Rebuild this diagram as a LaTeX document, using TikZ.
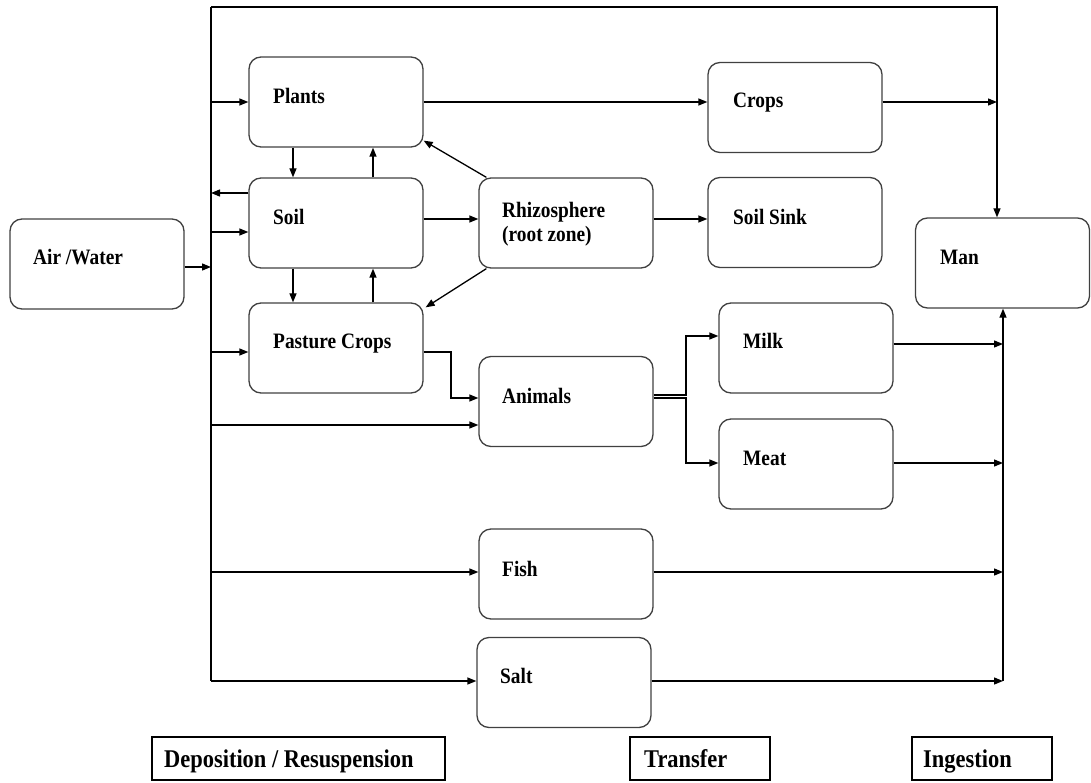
\documentclass[tikz,border=0pt]{standalone}
\usepackage{fontspec}
\setmainfont{Liberation Serif}[FakeStretch=0.88]
\usetikzlibrary{arrows.meta,calc}
\tikzset{
  box/.style={draw=black!75, line width=1.3pt, rounded corners=12pt, minimum width=174pt, minimum height=90pt, inner sep=0pt},
  txt/.style={anchor=base west, inner sep=0pt, font=\fontsize{22}{26}\selectfont\bfseries},
  lbl/.style={draw=black, line width=1.4pt, anchor=north west, inner sep=0pt},
  ltxt/.style={anchor=base west, inner sep=0pt, font=\fontsize{25.5}{30}\selectfont\bfseries},
  ln/.style={line width=1.3pt, draw=black},
  arr/.style={ln, -{Triangle[length=9pt,width=7pt]}}
}
\begin{document}
\begin{tikzpicture}[x=1pt,y=-1pt]
\useasboundingbox (0,0) rectangle (1091,783);
% boxes
\node[box] (air) at (97,264) {};
\node[box] (plants) at (336,102) {};
\node[box] (soil) at (336,223) {};
\node[box] (pasture) at (336,348) {};
\node[box] (rhizo) at (566,223) {};
\node[box] (animals) at (566,401.5) {};
\node[box] (fish) at (566,574) {};
\node[box] (salt) at (564,682.5) {};
\node[box] (crops) at (795,107.5) {};
\node[box] (soilsink) at (795,222.5) {};
\node[box] (milk) at (806,348) {};
\node[box] (meat) at (806,464) {};
\node[box] (man) at (1002.5,263) {};
% texts
\node[txt] (airT) at (33,265) {Air /Water};
\node[txt] (plantsT) at (273,104) {Plants};
\node[txt] (soilT) at (273,225) {Soil};
\node[txt] (pastureT) at (273,348) {Pasture Crops};
\node[txt] (rhizoT1) at (502,218) {Rhizosphere};
\node[txt] (rhizoT2) at (502,242) {(root zone)};
\node[txt] (animalsT) at (502,403) {Animals};
\node[txt] (fishT) at (502,576) {Fish};
\node[txt] (saltT) at (500,683) {Salt};
\node[txt] (cropsT) at (733,108) {Crops};
\node[txt] (soilsinkT) at (733,225) {Soil Sink};
\node[txt] (milkT) at (743,348) {Milk};
\node[txt] (meatT) at (743,465) {Meat};
\node[txt] (manT) at (940,265) {Man};
% bottom labels
\draw[line width=1.4pt] (152,737) rectangle (445,780);
\draw[line width=1.4pt] (630,737) rectangle (770,780);
\draw[line width=1.4pt] (912,737) rectangle (1052,780);
\node[ltxt] (depT) at (164,767) {Deposition / Resuspension};
\node[ltxt] (trT) at (644,767) {Transfer};
\node[ltxt] (ingT) at (923,767) {Ingestion};
% bus coordinates
\coordinate (tl) at (211,7);
\coordinate (tr) at (997,7);
\coordinate (bl) at (211,681);
\coordinate (rb) at (1003,681);
\coordinate (b1) at (211,267);
\coordinate (s1) at (211,193);
\coordinate (s2) at (211,232);
\coordinate (p1) at (211,352);
\coordinate (a1) at (211,425);
\coordinate (f1) at (211,572);
\coordinate (cx1) at (293,0);
\coordinate (cx2) at (373,0);
\coordinate (r1) at (0,219);
\coordinate (k1) at (451,352);
\coordinate (k2) at (451,398);
\coordinate (m0) at (686,395);
\coordinate (m1) at (686,336);
\coordinate (n0) at (686,398);
\coordinate (n1) at (686,463);
\coordinate (y1) at (0,344);
\coordinate (y2) at (0,463);
% left bus and top line
\draw[ln] (bl) -- (tl);
\draw[arr] (tl) -- (tr) -- (man.north -| tr);
\draw[arr] (air.east |- b1) -- (b1);
\draw[arr] (tl |- plants.west) -- (plants.west);
\draw[arr] (soil.west |- s1) -- (s1);
\draw[arr] (s2) -- (soil.west |- s2);
\draw[arr] (p1) -- (pasture.west |- p1);
\draw[arr] (a1) -- (animals.west |- a1);
\draw[arr] (f1) -- (fish.west |- f1);
\draw[arr] (bl) -- (salt.west |- bl);
% vertical exchanges
\draw[arr] (plants.south -| cx1) -- (soil.north -| cx1);
\draw[arr] (soil.north -| cx2) -- (plants.south -| cx2);
\draw[arr] (soil.south -| cx1) -- (pasture.north -| cx1);
\draw[arr] (pasture.north -| cx2) -- (soil.south -| cx2);
% rhizosphere
\draw[arr] (soil.east |- r1) -- (rhizo.west |- r1);
\draw[arr] (rhizo.east |- r1) -- (soilsink.west |- r1);
\draw[arr] ([xshift=8pt]rhizo.north west) -- ([yshift=7pt]plants.south east);
\draw[arr] ([xshift=8pt]rhizo.south west) -- ([xshift=2pt,yshift=-5pt]pasture.north east);
% crops
\draw[arr] (plants.east) -- (crops.west |- plants.east);
\draw[arr] (crops.east |- plants.east) -- (tr |- plants.east);
% animals
\draw[arr] (pasture.east |- k1) -- (k1) -- (k2) -- (animals.west |- k2);
\draw[arr] (animals.east |- m0) -- (m0) -- (m1) -- (milk.west |- m1);
\draw[arr] (animals.east |- n0) -- (n0) -- (n1) -- (meat.west |- n1);
% right bus
\draw[arr] (rb) -- (man.south -| rb);
\draw[arr] (milk.east |- y1) -- (rb |- y1);
\draw[arr] (meat.east |- y2) -- (rb |- y2);
\draw[arr] (fish.east |- f1) -- (rb |- f1);
\draw[arr] (salt.east |- bl) -- (rb);
\end{tikzpicture}
\end{document}
